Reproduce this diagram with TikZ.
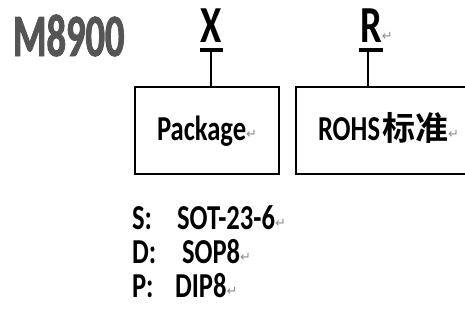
\documentclass[tikz,border=0pt]{standalone}
\usepackage{fontspec}
\setmainfont{Carlito}
\newfontfamily\calf[FakeStretch=0.76,UprightFont={* Bold}]{Carlito}
\newfontfamily\letf[FakeStretch=0.74,UprightFont={* Bold}]{Carlito}
\newfontfamily\titlef[FakeStretch=0.64,UprightFont={* Bold},FakeBold=1.5]{Carlito}
\newfontfamily\cjkf[UprightFont={* Bold}]{Noto Sans CJK SC}
\newfontfamily\dvf{DejaVu Sans}
\definecolor{titlegray}{HTML}{555555}
\definecolor{markgray}{HTML}{8C8C8C}
\newcommand\parmark{{\dvf\fontsize{13}{13}\selectfont\color{markgray}\raisebox{2pt}{↵}}}
\tikzset{
  every node/.style={inner sep=0pt, outer sep=0pt},
  boxst/.style={draw, line width=1.2pt, rectangle},
  txt/.style={anchor=base west, font=\calf\fontsize{35}{35}\selectfont},
  letter/.style={anchor=base, font=\letf\fontsize{52}{52}\selectfont},
  bar/.style={line width=3.6pt},
  conn/.style={line width=1.2pt}
}
\begin{document}
\begin{tikzpicture}[x=1pt,y=-1pt]
\clip (0,0) rectangle (465,324);
\fill[white] (0,0) rectangle (465,324);
% title
\node[anchor=base west, font=\titlef\fontsize{60}{60}\selectfont, text=titlegray] (title) at (13,56) {M8900};
% letters
\node[letter] (lx) at (211.5,42) {X};
\node[letter] (lr) at (371,42) {R};
\node[anchor=base west] (lrm) at (lr.base east) {\parmark};
% bars
\coordinate (bxl) at (200,50); \coordinate (bxr) at (223,50); \coordinate (bx) at (211,50);
\coordinate (brl) at (359,50); \coordinate (brr) at (383,50); \coordinate (br) at (368,50);
\draw[bar] (bxl) -- (bxr);
\draw[bar] (brl) -- (brr);
% boxes
\node[boxst, minimum width=144pt, minimum height=87pt, anchor=north west] (b1) at (135,87) {};
\node[boxst, minimum width=174pt, minimum height=87pt, anchor=north west] (b2) at (296,87) {};
\draw[conn] (bx) -- (bx |- b1.north);
\draw[conn] (br) -- (br |- b2.north);
% box texts
\node[txt] (pk) at (157,140.5) {Package\parmark};
\node[txt] (rh) at (318,140.5) {ROHS\hspace{2pt}{\cjkf\fontsize{33}{33}\selectfont 标准}\parmark};
% list
\node[txt] (s1) at (132,229) {S:};
\node[txt] (s2) at (177,229) {SOT-23-6\parmark};
\node[txt] (d1) at (132,263) {D:};
\node[txt] (d2) at (182,263) {SOP8\parmark};
\node[txt] (p1) at (132,297) {P:};
\node[txt] (p2) at (175,297) {DIP8\parmark};
\end{tikzpicture}
\end{document}
